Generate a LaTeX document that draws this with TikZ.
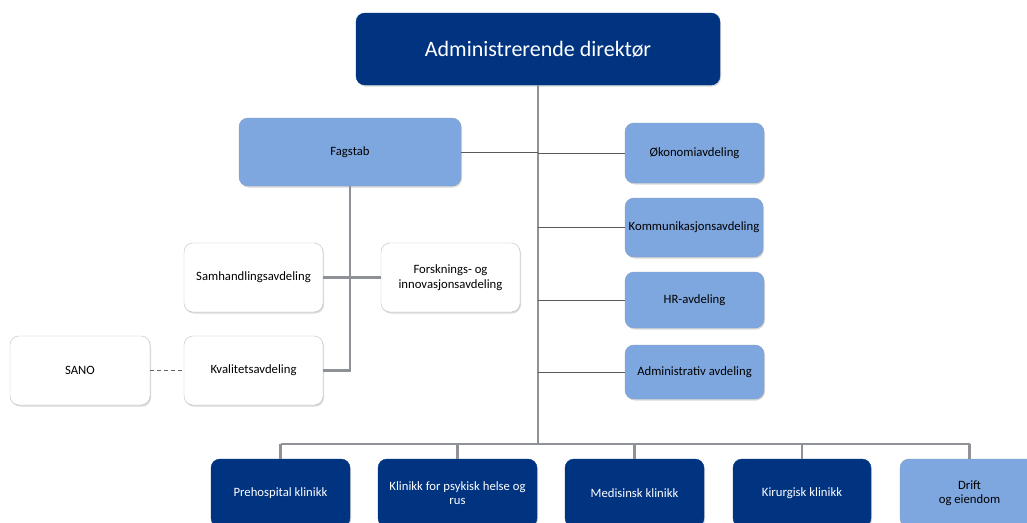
\documentclass[tikz,border=0pt]{standalone}
\usepackage{fontspec}
\setmainfont{Carlito}
\usetikzlibrary{shadows}
\definecolor{darkblue}{HTML}{003380}
\definecolor{lightblue}{HTML}{7FA7DF}
\definecolor{linegray}{HTML}{8E9298}
\definecolor{boxgray}{HTML}{BFBFBF}
\begin{document}
\begin{tikzpicture}[x=1pt,y=-1pt,
  base/.style={rounded corners=9pt, align=center, inner sep=2pt,
    font=\fontsize{12.7}{14.5}\selectfont,
    drop shadow={opacity=0.3, shadow xshift=1pt, shadow yshift=-1.5pt}},
  darkbox/.style={base, fill=darkblue, draw=darkblue, text=white},
  lightbox/.style={base, fill=lightblue, draw=lightblue!70!gray, text=black},
  whitebox/.style={base, fill=white, draw=boxgray, text=black},
  trunk/.style={draw=linegray, line width=2.4pt},
  thinline/.style={draw=black!65, line width=0.9pt}
]
\useasboundingbox (0,0) rectangle (1027,522);
\clip (0,0) rectangle (1027,522);

\node[darkbox, minimum width=364pt, minimum height=72pt, font=\fontsize{22}{26}\selectfont] (dir) at (538,49) {Administrerende direktør};

\node[lightbox, minimum width=222pt, minimum height=68pt] (fag) at (350,152) {Fagstab};

\node[lightbox, minimum width=139pt, minimum height=60pt] (oko) at (694.5,153) {Økonomiavdeling};
\node[lightbox, minimum width=138pt, minimum height=59pt] (kom) at (694,227.5) {Kommunikasjonsavdeling};
\node[lightbox, minimum width=139pt, minimum height=56pt] (hr) at (694.5,300) {HR-avdeling};
\node[lightbox, minimum width=139pt, minimum height=54pt] (adm) at (694.5,372) {Administrativ avdeling};

\node[whitebox, minimum width=139pt, minimum height=69pt] (sam) at (253.5,277.5) {Samhandlingsavdeling};
\node[whitebox, minimum width=139pt, minimum height=69pt] (fors) at (450.5,277.5) {Forsknings- og\\innovasjonsavdeling};
\node[whitebox, minimum width=139pt, minimum height=69pt] (kval) at (253.5,370.5) {Kvalitetsavdeling};
\node[whitebox, minimum width=140pt, minimum height=69pt] (sano) at (80,370.5) {SANO};

\node[darkbox, minimum width=139pt, minimum height=68pt] (pre) at (280.5,493) {Prehospital klinikk};
\node[darkbox, minimum width=159pt, minimum height=68pt] (kli) at (457.5,493) {Klinikk for psykisk helse og\\rus};
\node[darkbox, minimum width=139pt, minimum height=68pt] (med) at (634.5,493) {Medisinsk klinikk};
\node[darkbox, minimum width=138pt, minimum height=68pt] (kir) at (802,493) {Kirurgisk klinikk};
\node[lightbox, minimum width=139pt, minimum height=68pt] (dri) at (969.5,493) {Drift\\og eiendom};

\coordinate (bus) at (538,444);

% trunk and bus
\draw[trunk] (dir.south) -- (bus);
\draw[trunk] (pre.north |- bus) -- (dri.north |- bus);
\foreach \n in {pre,kli,med,kir,dri} \draw[trunk] (\n.north) -- (\n.north |- bus);

% staff lines
\draw[thinline] (fag.east) -- (fag.east -| dir.south);
\foreach \n in {oko,kom,hr,adm} \draw[thinline] (\n.west) -- (\n.west -| dir.south);

% Fagstab subtree
\draw[trunk] (fag.south) |- (kval.east);
\draw[trunk] (sam.east) -- (fors.west);
\draw[draw=black!60, line width=0.9pt, dashed, dash pattern=on 4pt off 3pt] (sano.east) -- (kval.west);
\end{tikzpicture}
\end{document}
